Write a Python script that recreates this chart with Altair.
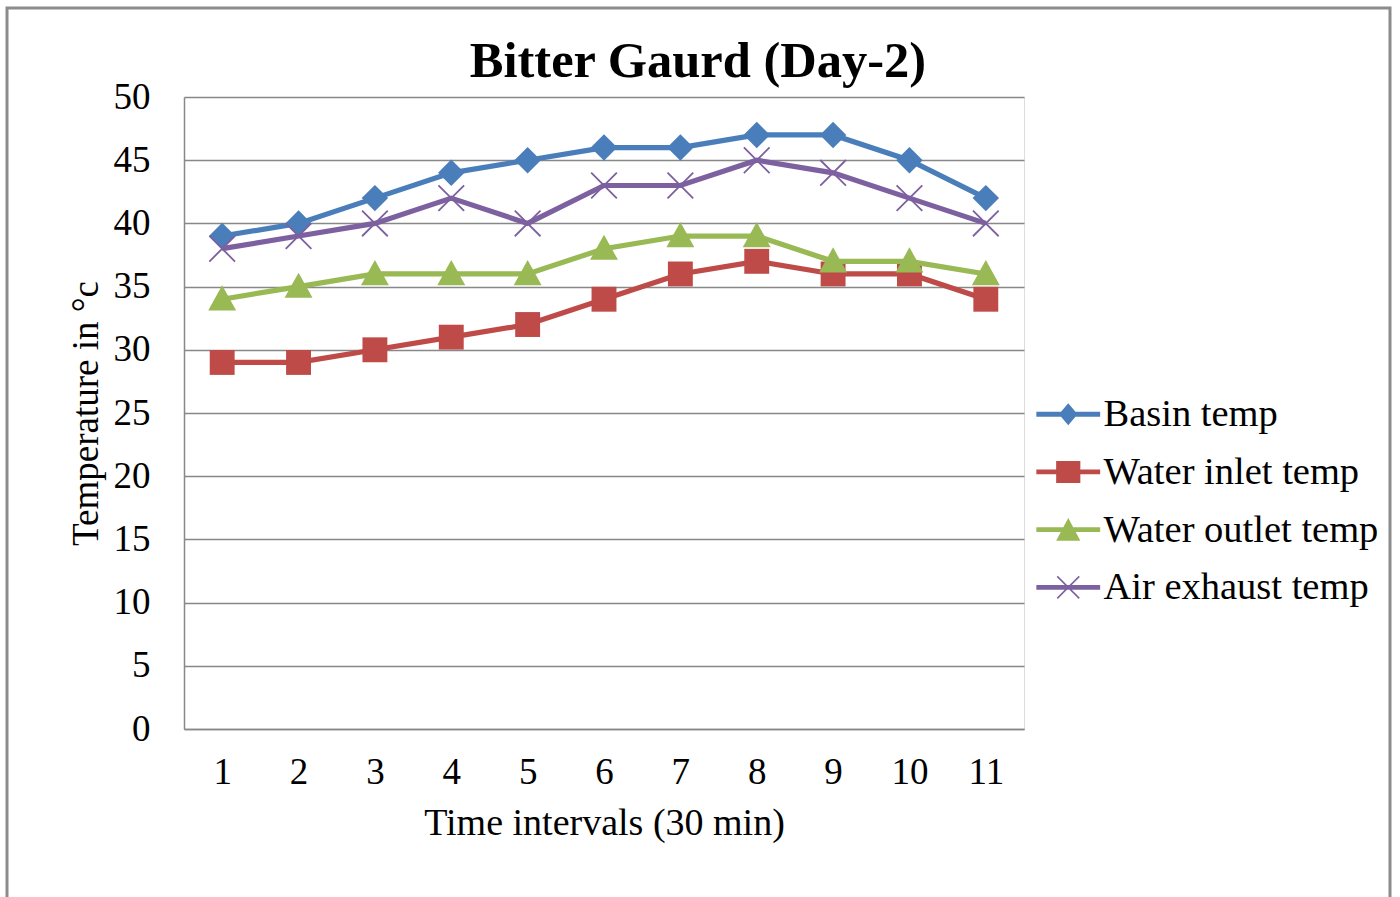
import altair as alt
import pandas as pd

intervals = ["1", "2", "3", "4", "5", "6", "7", "8", "9", "10", "11"]
series_names = ["Basin temp", "Water inlet temp", "Water outlet temp", "Air exhaust temp"]
basin = [39, 40, 42, 44, 45, 46, 46, 47, 47, 45, 42]
water_inlet = [29, 29, 30, 31, 32, 34, 36, 37, 36, 36, 34]
water_outlet = [34, 35, 36, 36, 36, 38, 39, 39, 37, 37, 36]
air_exhaust = [38, 39, 40, 42, 40, 43, 43, 45, 44, 42, 40]
colors = ["#4A7EBB", "#BE4B48", "#98B954", "#7D60A0"]
y_ticks = [0, 5, 10, 15, 20, 25, 30, 35, 40, 45, 50]

all_values = [basin, water_inlet, water_outlet, air_exhaust]
rows = []
for name, vals in zip(series_names, all_values):
    for t, v in zip(intervals, vals):
        rows.append({"interval": t, "temp": v, "series": name})
df = pd.DataFrame(rows)

FONT = "Liberation Serif"
GRID = "#888888"

# plot markers (unit path, scaled by sqrt(size)/2)
marker_paths = [
    "M0,-1L1,0L0,1L-1,0Z",
    "M-1,-1H1V1H-1Z",
    "M0,-1L1,0.8H-1Z",
    "M-1,-1L1,1M-1,1L1,-1",
]
marker_sizes = [700, 620, 780, 660]
marker_filled = [True, True, True, False]

# legend symbols: line segment + marker as one filled path
bar = "M-2.9,-0.22H2.9V0.22H-2.9Z"
legend_paths = [
    bar + "M0,-1L0.85,0L0,1L-0.85,0Z",
    bar + "M-1.1,-1H1.1V1H-1.1Z",
    bar + "M0,-1.05L1.1,1H-1.1Z",
    bar + "M-0.95,-1.05L1.05,0.95L0.95,1.05L-1.05,-0.95Z"
        + "M-1.05,0.95L0.95,-1.05L1.05,-0.95L-0.95,1.05Z",
]

x_enc = alt.X(
    "interval:O",
    sort=intervals,
    scale=alt.Scale(paddingInner=0, paddingOuter=0),
    axis=alt.Axis(
        title="Time intervals (30 min)",
        labelAngle=0,
        labelFont=FONT, labelFontSize=37, labelColor="black",
        labelPadding=25, labelBaseline="top",
        ticks=False, tickSize=0,
        domainColor=GRID, domainWidth=1.5,
        titleFont=FONT, titleFontSize=38, titleFontWeight="normal", titleColor="black",
        titleBaseline="alphabetic", titleY=105,
        grid=False,
    ),
)
y_enc = alt.Y(
    "temp:Q",
    scale=alt.Scale(domain=[0, 50], nice=False),
    axis=alt.Axis(
        title="Temperature in \u00b0c",
        values=y_ticks,
        labelFont=FONT, labelFontSize=37, labelColor="black",
        labelPadding=34,
        ticks=False, tickSize=0,
        domainColor=GRID, domainWidth=1.5,
        gridColor=GRID, gridWidth=1.3,
        titleFont=FONT, titleFontSize=37, titleFontWeight="normal", titleColor="black",
        titleBaseline="alphabetic", titleX=-87, titleY=316,
    ),
)
color_scale = alt.Scale(domain=series_names, range=colors)

base = alt.Chart(df)

legend_layer = base.transform_filter("false").mark_point(
    filled=True, opacity=1, strokeWidth=0
).encode(
    x=x_enc, y=y_enc,
    color=alt.Color(
        "series:N", scale=color_scale,
        legend=alt.Legend(
            title=None, orient="none", legendX=865, legendY=298,
            labelFont=FONT, labelFontSize=38.5, labelColor="black",
            labelOffset=16, symbolSize=484, symbolStrokeWidth=0,
            rowPadding=18.7, padding=0, labelLimit=400,
        ),
    ),
    shape=alt.Shape("series:N", scale=alt.Scale(domain=series_names, range=legend_paths)),
)

frame = alt.Chart(alt.Data(values=[{"f": 1}])).mark_rect(
    filled=False, stroke="#8C8C8C", strokeWidth=3
).encode(
    x=alt.value(-177), x2=alt.value(1206), y=alt.value(-89), y2=alt.value(812)
)

layers = [legend_layer, frame]
for i, name in enumerate(series_names):
    sub = base.transform_filter(alt.datum.series == name)
    line = sub.mark_line(strokeWidth=5.2, color=colors[i]).encode(x=x_enc, y=y_enc)
    if marker_filled[i]:
        pt = sub.mark_point(shape=marker_paths[i], size=marker_sizes[i], color=colors[i],
                            filled=True, opacity=1, strokeWidth=0)
    else:
        pt = sub.mark_point(shape=marker_paths[i], size=marker_sizes[i], color=colors[i],
                            filled=False, opacity=1, strokeWidth=1.8)
    pt = pt.encode(x=x_enc, y=y_enc)
    layers += [line, pt]

chart = alt.layer(*layers).properties(
    width=840, height=632,
    title=alt.TitleParams(
        "Bitter Gaurd (Day-2)",
        font=FONT, fontSize=50.5, fontWeight="bold", color="black",
        anchor="middle", frame="group", dx=94, dy=123, baseline="alphabetic", offset=2,
    ),
    padding={"left": 184, "top": 97, "right": 376, "bottom": 168},
    autosize=alt.AutoSizeParams(type="none"),
).configure_view(stroke=None).configure(background="white")

chart.save("out.html", embed_options={"renderer": "svg", "actions": False})
